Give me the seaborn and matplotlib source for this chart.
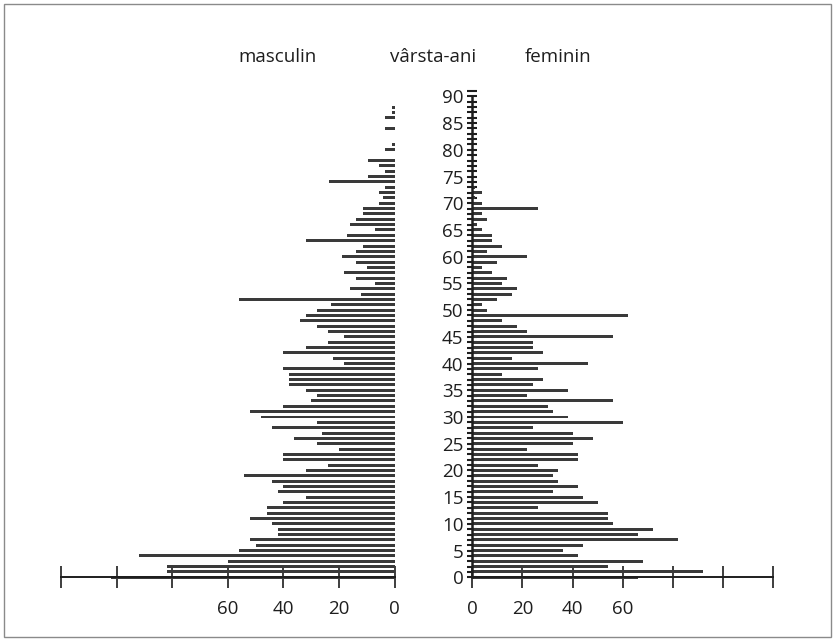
import matplotlib
matplotlib.use("Agg")
import matplotlib.pyplot as plt
import numpy as np
import pandas as pd
import seaborn as sns
from matplotlib.patches import Rectangle
from matplotlib.ticker import FixedLocator, FixedFormatter, MultipleLocator

# ---------------- data ----------------
ages = list(range(0, 89))
male = [102, 82, 82, 60, 92, 56, 50, 52, 42, 42,
        44, 52, 46, 46, 40, 32, 42, 40, 44, 54,
        32, 24, 40, 40, 20, 28, 36, 26, 44, 28,
        48, 52, 40, 30, 28, 32, 38, 38, 38, 40,
        18, 22, 40, 32, 24, 18, 24, 28, 34, 32,
        28, 23, 56, 12, 16, 7, 14, 18, 10, 14,
        19, 14, 11.5, 32, 17, 7, 16, 14, 11.5, 11.5,
        5.5, 4, 5.5, 3.4, 23.6, 9.7, 3.4, 5.5, 9.7, 0,
        3.4, 1, 0, 0, 3.4, 0, 3.4, 1, 1]
female = [66, 92, 54, 68, 42, 36, 44, 82, 66, 72,
          56, 54, 54, 26, 50, 44, 32, 42, 34, 32,
          34, 26, 42, 42, 22, 40, 48, 40, 24, 60,
          38, 32, 30, 56, 22, 38, 24, 28, 12, 26,
          46, 16, 28, 24, 24, 56, 22, 18, 12, 62,
          6, 4, 10, 16, 18, 12, 14, 8, 4, 10,
          22, 6, 12, 8, 8, 4, 2, 6, 4, 26,
          4, 1, 4, 1, 0, 0, 0, 0, 0, 0,
          0, 0, 0, 0, 0, 0, 0, 0, 0]
x_ticks = [0, 20, 40, 60, 80, 100, 120]
x_labels = ["0", "20", "40", "60", "", "", ""]
age_ticks = list(range(0, 91, 5))
title_left = "masculin"
title_mid = "vârsta-ani"
title_right = "feminin"

df = pd.DataFrame({"age": ages, "masculin": male, "feminin": female})

# ---------------- style ----------------
sns.set_theme(style="white")
plt.rcParams["font.family"] = ["Open Sans", "DejaVu Sans"]
bar_color = "#3a3a3a"
ink = "#1e1e1e"

W, H = 835, 641
fig = plt.figure(figsize=(W / 100, H / 100), dpi=100)
fig.patch.set_facecolor("white")
fig.patches.append(Rectangle((4 / W, 4 / H), (W - 8) / W, (H - 8) / H,
                             transform=fig.transFigure, fill=False,
                             ec="#8a8a8a", lw=1.0))

y0_px, y90_px = 577.3, 96.4
ppu = (y0_px - y90_px) / 90.0
ylo, yhi = -0.6, 91.0
bot = (H - (y0_px + (0 - ylo) * ppu)) / H
top = (H - (y90_px - (yhi - 90) * ppu)) / H

axL = fig.add_axes([61 / W, bot, (394.5 - 61) / W, top - bot])
axR = fig.add_axes([472.3 / W, bot, (773.3 - 472.3) / W, top - bot])

sns.barplot(data=df, x="masculin", y="age", orient="h", native_scale=True,
            color=bar_color, saturation=1, width=0.56, errorbar=None,
            linewidth=0, ax=axL)
sns.barplot(data=df, x="feminin", y="age", orient="h", native_scale=True,
            color=bar_color, saturation=1, width=0.56, errorbar=None,
            linewidth=0, ax=axR)

for ax in (axL, axR):
    ax.set_ylim(ylo, yhi)
    ax.set_xlabel("")
    ax.set_ylabel("")
    ax.set_facecolor("none")
    for s in ("top", "right", "left"):
        ax.spines[s].set_visible(False)
    ax.spines["bottom"].set_position(("data", 0))
    ax.spines["bottom"].set_color(ink)
    ax.spines["bottom"].set_linewidth(1.4)
    ax.spines["bottom"].set_zorder(5)
    ax.xaxis.set_major_locator(FixedLocator(x_ticks))
    ax.xaxis.set_major_formatter(FixedFormatter(x_labels))
    ax.tick_params(axis="x", direction="inout", length=16, width=1.2,
                   color=ink, labelsize=13.5, labelcolor=ink, pad=8,
                   bottom=True)

axL.set_xlim(120, 0)
axR.set_xlim(0, 120)
axL.tick_params(axis="y", left=False, labelleft=False)

# age axis on the right panel
axR.spines["left"].set_visible(True)
axR.spines["left"].set_bounds(0, 90)
axR.spines["left"].set_color(ink)
axR.spines["left"].set_linewidth(1.8)
axR.yaxis.set_major_locator(FixedLocator(age_ticks))
axR.yaxis.set_major_formatter(FixedFormatter([str(a) for a in age_ticks]))
axR.yaxis.set_minor_locator(MultipleLocator(1))
axR.tick_params(axis="y", which="both", direction="inout", length=6.5,
                width=1.5, color=ink, left=True)
axR.tick_params(axis="y", which="major", labelsize=13.5, labelcolor=ink,
                pad=3)

fig.text(278 / W, 1 - 57 / H, title_left, ha="center", va="center",
         fontsize=13.5, color=ink)
fig.text(433 / W, 1 - 57 / H, title_mid, ha="center", va="center",
         fontsize=13.5, color=ink)
fig.text(558 / W, 1 - 57 / H, title_right, ha="center", va="center",
         fontsize=13.5, color=ink)

fig.savefig("out.png", dpi=100)
